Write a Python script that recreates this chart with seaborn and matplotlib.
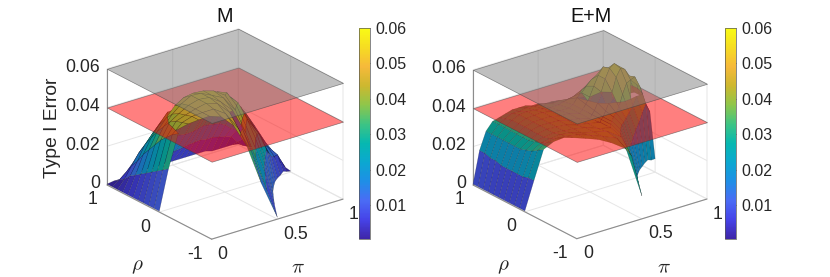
import numpy as np
import matplotlib
matplotlib.use("Agg")
import matplotlib.pyplot as plt
import seaborn as sns
from matplotlib.cm import ScalarMappable
from matplotlib.colors import Normalize
from matplotlib.ticker import NullFormatter
from mpl_toolkits.mplot3d import proj3d
from mpl_toolkits.mplot3d.art3d import Poly3DCollection

sns.set_theme(style="white")
plt.rcParams["font.family"] = ["Liberation Sans"]
plt.rcParams["mathtext.fontset"] = "cm"

# ---- data ----
titles = ["M", "E+M"]
pi_grid = [0, .05, .1, .15, .2, .25, .3, .35, .4, .45, .5, .55, .6, .65, .7, .75, .8, .85, .9, .95, 1]
rho_floor = [0, -.05, -.11, -.18, -.25, -.33, -.43, -.54, -.67, -.82, -1,
             -.82, -.67, -.54, -.43, -.33, -.25, -.18, -.11, -.05, 0]
frac_grid = [0, .1, .2, .3, .4, .5, .6, .7, .8, .9, 1]
err_M = [
 [.0005]*11,
 [.022,.020,.018,.016,.014,.012,.010,.008,.005,.003,.001],
 [.040,.038,.035,.032,.028,.024,.020,.015,.011,.006,.001],
 [.045,.044,.043,.041,.037,.033,.028,.023,.017,.010,.001],
 [.047,.047,.046,.045,.043,.039,.034,.028,.021,.013,.002],
 [.049,.049,.049,.049,.048,.045,.040,.033,.026,.017,.002],
 [.049,.051,.052,.052,.052,.049,.043,.034,.022,.011,.002],
 [.045,.049,.052,.053,.053,.051,.045,.034,.022,.011,.002],
 [.035,.042,.048,.051,.052,.052,.046,.034,.022,.011,.002],
 [.017,.030,.040,.047,.051,.052,.047,.034,.022,.011,.002],
 [.001,.012,.025,.036,.045,.050,.048,.035,.023,.012,.002],
 [.004,.018,.028,.037,.045,.049,.047,.035,.023,.012,.002],
 [.006,.020,.030,.038,.044,.045,.044,.034,.023,.012,.002],
 [.005,.020,.030,.034,.040,.042,.041,.033,.022,.012,.002],
 [.005,.022,.028,.031,.035,.038,.037,.031,.021,.011,.002],
 [.005,.018,.024,.027,.030,.034,.034,.029,.020,.011,.002],
 [.0045,.014,.018,.022,.026,.030,.031,.026,.018,.010,.001],
 [.004,.012,.015,.018,.021,.025,.026,.022,.015,.009,.001],
 [.004,.011,.012,.014,.017,.020,.021,.018,.013,.008,.001],
 [.002,.006,.008,.009,.011,.012,.012,.010,.007,.004,.001],
 [.0005,.001,.002,.003,.004,.005,.004,.003,.002,.001,.0005],
]
err_EM = [
 [.0005]*11,
 [.016,.016,.015,.015,.015,.015,.015,.016,.016,.017,.017],
 [.032,.030,.028,.027,.026,.026,.026,.026,.026,.026,.026],
 [.036,.034,.032,.031,.030,.030,.030,.030,.030,.030,.030],
 [.038,.036,.034,.033,.033,.033,.033,.033,.033,.032,.031],
 [.038,.037,.036,.035,.035,.035,.035,.035,.035,.034,.032],
 [.038,.038,.037,.036,.036,.036,.036,.036,.036,.034,.033],
 [.038,.038,.037,.037,.037,.037,.037,.037,.036,.035,.033],
 [.037,.038,.038,.038,.037,.037,.037,.037,.036,.035,.033],
 [.035,.038,.039,.038,.038,.038,.038,.037,.036,.035,.032],
 [.012,.030,.037,.039,.039,.038,.038,.038,.037,.035,.032],
 [.014,.028,.036,.038,.038,.038,.038,.038,.037,.034,.031],
 [.014,.026,.035,.037,.037,.038,.039,.040,.037,.034,.031],
 [.013,.025,.035,.037,.038,.040,.041,.041,.037,.033,.030],
 [.012,.025,.034,.037,.040,.044,.045,.043,.038,.033,.029],
 [.011,.026,.034,.038,.044,.049,.049,.045,.039,.032,.028],
 [.0105,.028,.035,.043,.050,.053,.052,.046,.039,.031,.026],
 [.0105,.030,.037,.047,.053,.054,.050,.043,.035,.028,.023],
 [.010,.033,.040,.047,.051,.051,.046,.040,.032,.024,.018],
 [.008,.036,.043,.047,.046,.043,.038,.030,.024,.018,.013],
 [.007,.030,.034,.036,.036,.034,.030,.025,.018,.012,.008],
]
plane_levels = [0.04, 0.06]
pi_ticks = [0, .5, 1]
pi_ticklabels = ["0", "0.5", "1"]
rho_ticks = [-1, 0, 1]
rho_ticklabels = ["-1", "0", "1"]
z_ticks = [0, .02, .04, .06]
z_ticklabels = ["0", "0.02", "0.04", "0.06"]
cbar_ticks = [.01, .02, .03, .04, .05, .06]
cbar_ticklabels = ["0.01", "0.02", "0.03", "0.04", "0.05", "0.06"]
clim = (0.0004, 0.06)

parula = sns.blend_palette(["#3E26A8", "#4643E8", "#4A6CF5", "#1E8FE6", "#0BA8D0", "#06B8B0",
                            "#3EC483", "#8FC64A", "#CDB82F", "#F6B93A", "#F6DC22", "#F9FB15"],
                           n_colors=256, as_cmap=True)
norm = Normalize(*clim)

W, H = 830, 277
fig = plt.figure(figsize=(W / 100, H / 100), dpi=100)
DARK = "#262626"


def clip(poly, level):
    """Split a quad at the height of a plane so layers stack correctly."""
    lo, hi = [], []
    n = len(poly)
    for k in range(n):
        a, b = np.array(poly[k]), np.array(poly[(k + 1) % n])
        (lo if a[2] <= level else hi).append(a)
        if (a[2] - level) * (b[2] - level) < 0:
            p = a + (b - a) * (level - a[2]) / (b[2] - a[2])
            lo.append(p)
            hi.append(p)
    return lo, hi


def project(ax, x, y, z):
    px, py, _ = proj3d.proj_transform(x, y, z, ax.get_proj())
    return px, py


def place(ax, left, right):
    """Scale and shift the axes so two floor corners land on given pixels."""
    S = 400.0
    ax.set_position([0, 0, S / W, S / H])
    ax.apply_aspect()
    a = ax.transData.transform(project(ax, 0, 1, 0))
    b = ax.transData.transform(project(ax, 1, -1, 0))
    S *= (right[0] - left[0]) / (b[0] - a[0])
    ax.set_position([0, 0, S / W, S / H])
    ax.apply_aspect()
    a = ax.transData.transform(project(ax, 0, 1, 0))
    dx, dy = left[0] - a[0], (H - left[1]) - a[1]
    ax.set_position([dx / W, dy / H, S / W, S / H])
    ax.apply_aspect()


def panel(err, title, left, right, cx, show_z):
    ax = fig.add_axes([0, 0, .5, .5], projection="3d", computed_zorder=False)
    ax.set_proj_type("ortho")
    ax.view_init(elev=23.4, azim=-127.5)
    ax.set_box_aspect((165.3, 171.6, 126.4))
    ax.set_xlim(0, 1, view_margin=0)
    ax.set_ylim(-1, 1, view_margin=0)
    ax.set_zlim(0, .06, view_margin=0)
    ax.patch.set_alpha(0)
    ax.set_xticks(pi_ticks)
    ax.set_yticks(rho_ticks)
    ax.set_zticks(z_ticks)
    for axis in (ax.xaxis, ax.yaxis, ax.zaxis):
        axis.set_major_formatter(NullFormatter())
        axis.set_pane_color((1, 1, 1, 0))
        axis.pane.set_edgecolor("#dcdcdc")
        axis.pane.set_linewidth(.7)
        axis.line.set_color((0, 0, 0, 0))
        axis._axinfo["grid"].update(color="#e6e6e6", linewidth=.7)
        axis._axinfo["tick"].update(inward_factor=0, outward_factor=0)

    z = np.array(err)
    rho = np.array([[f + fr * (1 - f) for fr in frac_grid] for f in rho_floor])
    low, high, clow, chigh = [], [], [], []
    for i in range(len(pi_grid) - 1):
        for j in range(len(frac_grid) - 1):
            quad = [(pi_grid[a], rho[a, b], z[a, b])
                    for a, b in ((i, j), (i + 1, j), (i + 1, j + 1), (i, j + 1))]
            lo, hi = clip(quad, plane_levels[0])
            for part, store, cs in ((lo, low, clow), (hi, high, chigh)):
                if len(part) >= 3:
                    col = np.array(parula(norm(np.mean([q[2] for q in part]))))
                    col[:3] *= .78
                    store.append(part)
                    cs.append(col)
    for polys, cols, zo in ((low, clow, 1), (high, chigh, 3)):
        coll = Poly3DCollection(polys, facecolors=cols, edgecolors=(0, 0, 0, .35),
                                linewidths=.3, zorder=zo)
        ax.add_collection3d(coll)
    for lev, col, zo in zip(plane_levels, ((1, 0, 0, .5), (.5, .5, .5, .5)), (2, 4)):
        sheet = [[(0, -1, lev), (1, -1, lev), (1, 1, lev), (0, 1, lev)]]
        ax.add_collection3d(Poly3DCollection(sheet, facecolors=[col],
                                             edgecolors=(.25, .25, .25, .6),
                                             linewidths=.5, zorder=zo))
    # box lines that carry the ticks
    ax.plot([0, 1], [-1, -1], [0, 0], color="#8c8c8c", lw=.8, zorder=.5)
    ax.plot([0, 0], [-1, 1], [0, 0], color="#8c8c8c", lw=.8, zorder=.5)
    ax.plot([0, 0], [1, 1], [0, .06], color="#8c8c8c", lw=.8, zorder=.5)

    place(ax, left, right)

    def label(x, y, zv, text, off, ha):
        ax.annotate(text, xy=project(ax, x, y, zv), xycoords="data", xytext=off,
                    textcoords="offset pixels", ha=ha, va="center", fontsize=12.7,
                    color=DARK, annotation_clip=False, zorder=6)

    for v, s in zip(pi_ticks, pi_ticklabels):
        label(v, -1, 0, s, (6, -15), "left")
    for v, s in zip(rho_ticks, rho_ticklabels):
        label(0, v, 0, s, (-9, -15), "right")
    for v, s in zip(z_ticks, z_ticklabels):
        label(0, 1, v, s, (-7, 1), "right")

    fig.text(cx / W, 1 - 17 / H, title, ha="center", va="center", fontsize=14.2, color="#111111")
    fig.text((left[0] + 30) / W, 1 - 267 / H, r"$\rho$", ha="center", va="center", fontsize=15, color=DARK)
    fig.text((left[0] + 191) / W, 1 - 268 / H, r"$\pi$", ha="center", va="center", fontsize=15, color=DARK)
    if show_z:
        fig.text(52 / W, 1 - 128 / H, "Type I Error", rotation=90, ha="center", va="center",
                 fontsize=13.9, color=DARK)


def colorbar(x0):
    cax = fig.add_axes([x0 / W, 1 - 239 / H, 11 / W, 211 / H])
    cb = fig.colorbar(ScalarMappable(norm=norm, cmap=parula), cax=cax)
    cb.set_ticks(cbar_ticks)
    cb.set_ticklabels(cbar_ticklabels)
    cb.ax.tick_params(length=2, width=.5, direction="in", pad=4, labelsize=11.5, colors=DARK)
    cb.outline.set_linewidth(.5)
    cb.outline.set_edgecolor("#555555")


panel(err_M, titles[0], (107, 185), (343, 199), 225, True)
panel(err_EM, titles[1], (473, 185), (707, 199), 591, False)
colorbar(359)
colorbar(725)

fig.savefig("out.png", dpi=100, facecolor="white")
